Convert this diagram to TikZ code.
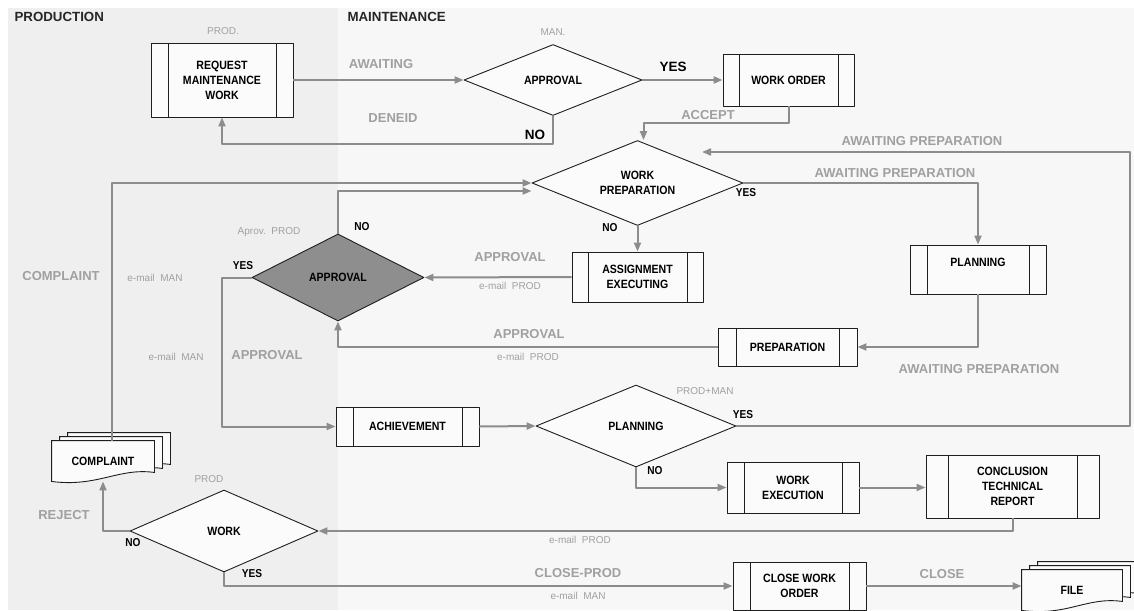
\documentclass[tikz,border=0pt]{standalone}
\usepackage{fontspec}
\setmainfont{Liberation Sans}
\newfontfamily\narrowfont[FakeStretch=0.88]{Liberation Sans}
\usetikzlibrary{shapes.geometric,arrows.meta,calc}
\definecolor{flowgray}{HTML}{8C8C8C}
\definecolor{labgray}{HTML}{A0A0A0}
\definecolor{prodbg}{HTML}{EFEFEF}
\definecolor{manbg}{HTML}{F7F7F7}
\definecolor{boxfill}{HTML}{FBFBFB}
\definecolor{boxline}{HTML}{1E1E1E}
\definecolor{darkdec}{HTML}{8E8E8E}
\pgfdeclarelayer{bg}
\pgfdeclarelayer{docs}
\pgfsetlayers{bg,docs,main}
% stack of three documents behind a node
\newcommand{\docstack}[1]{%
  \foreach \dd in {2,1,0}
    \draw[docline] ([shift={(8*\dd,-4*\dd)}]#1.north west) -- ([shift={(8*\dd,-4*\dd)}]#1.north east)
      -- ([shift={(8*\dd,-4*\dd-9)}]#1.south east)
      .. controls +(-36,-5) and +(46,6) .. ([shift={(8*\dd,-4*\dd)}]#1.south west) -- cycle;
}

\begin{document}
\begin{tikzpicture}[x=1pt,y=-1pt,line join=round,
	box/.style={draw=boxline,fill=boxfill,line width=0.9pt,inner sep=0pt,align=center,
		font=\narrowfont\bfseries\fontsize{12}{15}\selectfont},
	proc/.style={box,path picture={
		\draw[boxline,line width=0.9pt] ([xshift=#1pt]path picture bounding box.north west) -- ([xshift=#1pt]path picture bounding box.south west)
		([xshift=-#1pt]path picture bounding box.north east) -- ([xshift=-#1pt]path picture bounding box.south east);}},
	proc/.default=17,
	dec/.style={diamond,draw=boxline,fill=boxfill,line width=0.9pt,inner sep=0pt,aspect=2.3,align=center,
		font=\narrowfont\bfseries\fontsize{12}{15}\selectfont},
	arr/.style={draw=flowgray,line width=2pt,-{Triangle[length=9pt,width=7pt]}},
	glab/.style={text=labgray,font=\bfseries\fontsize{13}{15}\selectfont},
	slab/.style={text=labgray,font=\fontsize{10}{12}\selectfont},
	yn/.style={font=\narrowfont\bfseries\fontsize{11.5}{13}\selectfont},
	bigyn/.style={font=\bfseries\fontsize{13.5}{15}\selectfont},
	head/.style={anchor=west,text=black!85,font=\bfseries\fontsize{13.3}{15}\selectfont},
	docline/.style={draw=boxline,fill=boxfill,line width=0.9pt}]
	\useasboundingbox (0,0) rectangle (1134,610);
	\begin{pgfonlayer}{bg}
		\fill[prodbg] (8,8) rectangle (338,610);
		\fill[manbg] (338,8) rectangle (1134,610);
	\end{pgfonlayer}
	\node[head] (hprod) at (11,17) {PRODUCTION};
	\node[head] (hman) at (344,17) {MAINTENANCE};
	% steps
	\node[proc,minimum width=142,minimum height=74] (req) at (222,80) {REQUEST\\MAINTENANCE\\WORK};
	\node[dec,minimum width=178,minimum height=71] (appr) at (553,80) {APPROVAL};
	\node[proc=16,minimum width=131,minimum height=52] (wo) at (788.5,80) {WORK ORDER};
	\node[dec,minimum width=211,minimum height=85] (wp) at (637.5,183) {WORK\\PREPARATION};
	\node[proc,minimum width=136,minimum height=49] (plan) at (978,269.5) {PLANNING\\\mbox{}};
	\node[proc=16,minimum width=131,minimum height=50] (asg) at (637.5,277) {ASSIGNMENT\\EXECUTING};
	\node[dec,fill=darkdec,minimum width=172,minimum height=87] (ga) at (338,277.5) {APPROVAL};
	\node[proc=18,minimum width=139,minimum height=38] (prep) at (787.5,347) {PREPARATION};
	\node[proc,minimum width=143,minimum height=39] (ach) at (407.5,426.5) {ACHIEVEMENT};
	\node[dec,minimum width=200,minimum height=82] (pd) at (636,426) {PLANNING};
	\node[proc,minimum width=132,minimum height=51] (we) at (793,487.5) {WORK\\EXECUTION};
	\node[proc=22,minimum width=173,minimum height=63] (conc) at (1012.5,486.5) {CONCLUSION\\TECHNICAL\\REPORT};
	\node[dec,minimum width=188,minimum height=82] (work) at (224,531) {WORK};
	\node[proc,minimum width=133,minimum height=48] (cwo) at (799.5,586) {CLOSE WORK\\ORDER};
	\node[box,draw=none,fill=none,minimum width=102,minimum height=40] (compl) at (103,461) {COMPLAINT};
	\node[box,draw=none,fill=none,minimum width=100,minimum height=40] (file) at (1072,590) {FILE};
	\begin{pgfonlayer}{docs}
		\docstack{compl}
		\docstack{file}
	\end{pgfonlayer}
	% flow
	\coordinate (wpin) at (702,152);
	\draw[arr] (req) -- (appr);
	\draw[arr] (appr) -- (wo);
	\draw[arr] (appr.south) -- ++(0,28) -| (req.south);
	\draw[arr] (wo.south) -- ++(0,17) -| ([xshift=6pt]wp.north);
	\draw[arr] (pd.east) -- ++(394,0) |- (wpin);
	\draw[arr] (wp.east) -| (plan.north);
	\draw[arr] (wp.south) -- (asg.north);
	\draw[arr] (asg.west) -- (ga.east);
	\draw[arr] (plan.south) |- (prep.east);
	\draw[arr] (prep.west) -| (ga.south);
	\draw[arr] (ga.north) |- ([yshift=-8pt]wp.west);
	\draw[arr] ([xshift=9pt]compl.north) |- (wp.west);
	\draw[arr] (ga.west) -- ++(-30,0) |- (ach.west);
	\draw[arr] (ach.east) -- (pd.west);
	\draw[arr] (pd.south) |- (we.west);
	\draw[arr] (we.east) -- (we.east -| conc.west);
	\draw[arr] (conc.south) |- (work.east);
	\draw[arr] (work.west) -| (compl.south);
	\draw[arr] (work.south) |- (cwo.west);
	\draw[arr] (cwo.east) -- (cwo.east -| file.west);
	% labels
	\node[slab] (lprod1) at (223,31) {PROD.};
	\node[slab] (lman) at (553,32) {MAN.};
	\node[glab] (lawait) at (381,64) {AWAITING};
	\node[bigyn] (lyes1) at (673,67) {YES};
	\node[glab] (ldeneid) at (393,118) {DENEID};
	\node[bigyn] (lno1) at (535,135) {NO};
	\node[glab] (laccept) at (708,115) {ACCEPT};
	\node[glab] (lawprep1) at (922,141) {AWAITING PREPARATION};
	\node[glab] (lawprep2) at (895,173) {AWAITING PREPARATION};
	\node[yn] (lyes2) at (746,193) {YES};
	\node[yn] (lno2) at (610,228) {NO};
	\node[slab] (laprov) at (269,232) {Aprov.\ \ PROD};
	\node[yn] (lno3) at (362,227) {NO};
	\node[yn] (lyes3) at (243,266) {YES};
	\node[glab] (lappr1) at (510,257) {APPROVAL};
	\node[slab] (lmail1) at (510,286) {e-mail\ \ PROD};
	\node[glab] (lcompl) at (61,276) {COMPLAINT};
	\node[slab] (lmail2) at (155,278) {e-mail\ \ MAN};
	\node[glab] (lappr2) at (529,334) {APPROVAL};
	\node[slab] (lmail3) at (528,357) {e-mail\ \ PROD};
	\node[glab] (lappr3) at (267,355) {APPROVAL};
	\node[slab] (lmail4) at (176,357) {e-mail\ \ MAN};
	\node[glab] (lawprep3) at (979,369) {AWAITING PREPARATION};
	\node[slab] (lpm) at (705,391) {PROD+MAN};
	\node[yn] (lyes4) at (743,415) {YES};
	\node[yn] (lno4) at (655,471) {NO};
	\node[slab] (lprod2) at (209,479) {PROD};
	\node[glab] (lreject) at (64,515) {REJECT};
	\node[yn] (lno5) at (133,543) {NO};
	\node[slab] (lmail5) at (580,540) {e-mail\ \ PROD};
	\node[yn] (lyes5) at (252,574) {YES};
	\node[glab] (lclprod) at (578,573) {CLOSE-PROD};
	\node[slab] (lmail6) at (578,596) {e-mail\ \ MAN};
	\node[glab] (lclose) at (942,574) {CLOSE};
\end{tikzpicture}
\end{document}
